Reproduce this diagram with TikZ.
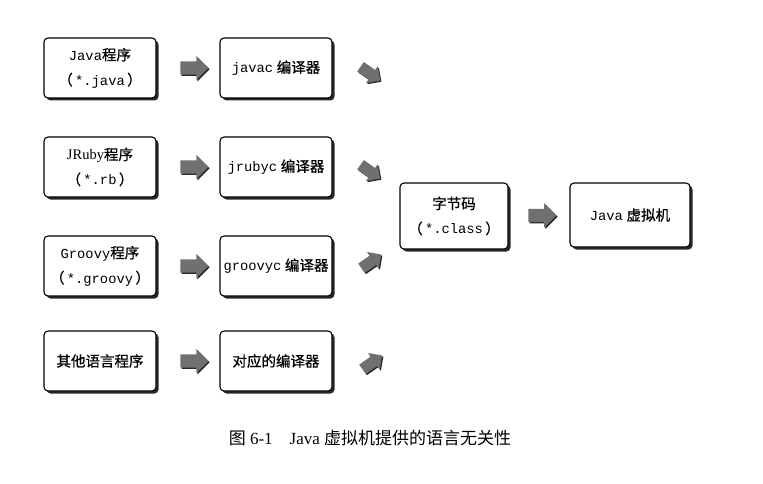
\documentclass[tikz,border=0pt]{standalone}
\usepackage{fontspec}
\setmainfont{Liberation Serif}
\setmonofont[Scale=0.95]{Liberation Mono}
\newfontfamily\cjk[FakeBold=0.8]{Noto Sans CJK SC}
\newfontfamily\cjkplain{Noto Sans CJK SC}
\usetikzlibrary{shapes.arrows,shadows,calc}
\definecolor{arrowgray}{RGB}{112, 112, 112}
\definecolor{shadegray}{RGB}{40, 40, 40}
\newcommand{\zhtext}[1]{{\cjk #1}}
\newcommand{\codetext}[1]{{\ttfamily #1}}

\begin{document}
\begin{tikzpicture}[x=1pt,y=-1pt,
    box/.style={draw=black, line width=1.1pt, fill=white, rounded corners=4pt,
        minimum width=112pt, minimum height=60pt, align=center,
        font=\fontsize{14.5}{25}\selectfont,
        drop shadow={shadow xshift=2.5pt, shadow yshift=-2.5pt, fill=shadegray, opacity=1}},
    blockarrow/.style={single arrow, fill=arrowgray, draw=none, inner sep=6.5pt,
        single arrow head extend=5.5pt, minimum height=28pt,
        drop shadow={shadow xshift=1.2pt, shadow yshift=-1.2pt, fill=shadegray, opacity=1}},
    tiltarrow/.style={blockarrow, inner sep=5.5pt, single arrow head extend=4.5pt, minimum height=24pt}]
    \useasboundingbox (0,0) rectangle (763,484);
    % source programs
    \node[box] (java)   at (100, 68) {\codetext{Java}\zhtext{程序}\\\zhtext{（}\,\codetext{*.java}\,\zhtext{）}};
    \node[box] (jruby)  at (100,167) {JRuby\zhtext{程序}\\\zhtext{（}\,\codetext{*.rb}\,\zhtext{）}};
    \node[box] (groovy) at (100,266) {\codetext{Groovy}\zhtext{程序}\\\zhtext{（}\,\codetext{*.groovy}\,\zhtext{）}};
    \node[box] (other)  at (100,361) {\zhtext{其他语言程序}};
    % compilers
    \node[box] (javac)   at (276, 68) {\codetext{javac} \zhtext{编译器}};
    \node[box] (jrubyc)  at (276,167) {\codetext{jrubyc} \zhtext{编译器}};
    \node[box] (groovyc) at (276,266) {\codetext{groovyc} \zhtext{编译器}};
    \node[box] (othercc) at (276,361) {\zhtext{对应的编译器}};
    % class file and vm
    \node[box, minimum width=108pt, minimum height=66pt] (bytecode) at (454,216) {\zhtext{字节码}\\\zhtext{（}\,\codetext{*.class}\,\zhtext{）}};
    \node[box, minimum width=120pt, minimum height=64pt] (jvm) at (630,215) {\codetext{Java} \zhtext{虚拟机}};
    % block arrows
    \node[blockarrow] (a1) at ($(java.east)!0.55!(javac.west)$) {};
    \node[blockarrow] (a2) at ($(jruby.east)!0.55!(jrubyc.west)$) {};
    \node[blockarrow] (a3) at ($(groovy.east)!0.55!(groovyc.west)$) {};
    \node[blockarrow] (a4) at ($(other.east)!0.55!(othercc.west)$) {};
    \node[tiltarrow, rotate=-35] (d1) at (368, 72) {};
    \node[tiltarrow, rotate=-35] (d2) at (368,170) {};
    \node[tiltarrow, rotate=35]  (d3) at (369,263) {};
    \node[tiltarrow, rotate=35]  (d4) at (370,364) {};
    \node[blockarrow] (a5) at ($(bytecode.east)!0.5!(jvm.west)$) {};
    % caption
    \node[font=\fontsize{17}{20}\selectfont] (caption) at (370,438) {{\cjkplain 图} 6-1\quad Java {\cjkplain 虚拟机提供的语言无关性}};
\end{tikzpicture}
\end{document}
